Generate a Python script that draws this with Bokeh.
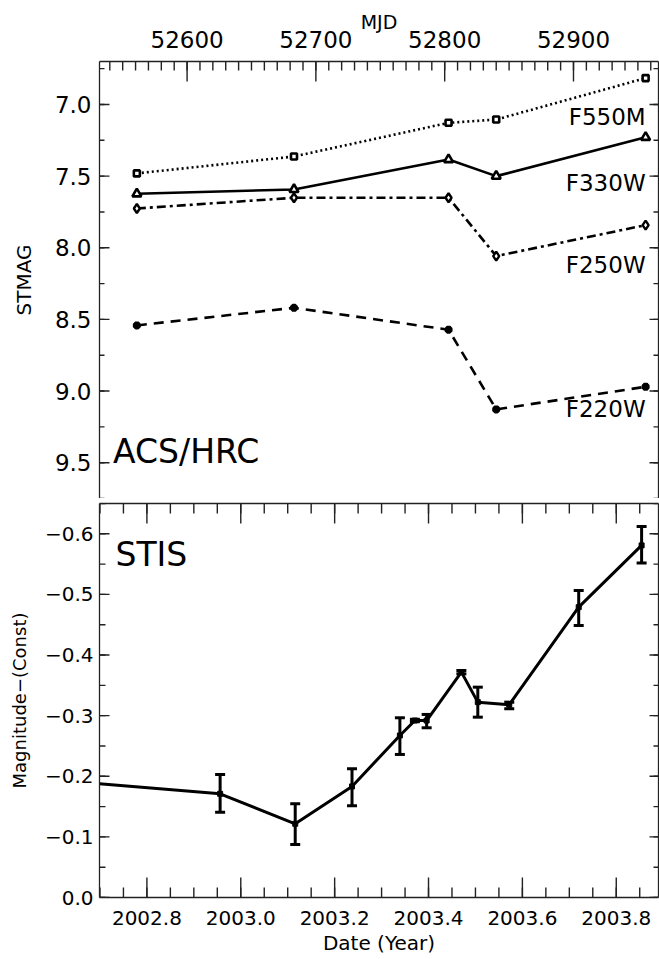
import numpy as np
from bokeh.plotting import figure
from bokeh.layouts import column
from bokeh.models import (Range1d, LinearAxis, SingleIntervalTicker, PrintfTickFormatter,
                          CustomJSTickFormatter, Whisker, TeeHead, ColumnDataSource, Label)
from bokeh.embed import file_html
from bokeh.resources import INLINE

# ---------------- data ----------------
# ACS/HRC photometry (MJD, STMAG)
acs_mjd = [52561, 52683, 52803, 52840, 52956]
f550m = [7.481, 7.363, 7.128, 7.105, 6.816]
f330w = [7.623, 7.593, 7.384, 7.500, 7.229]
f250w = [7.726, 7.651, 7.651, 8.058, 7.842]
f220w = [8.542, 8.419, 8.572, 9.128, 8.970]
filter_names = ["F550M", "F330W", "F250W", "F220W"]

# STIS relative magnitudes (decimal year)
stis_year = [2002.699, 2002.956, 2003.116, 2003.237, 2003.339, 2003.371,
             2003.396, 2003.470, 2003.505, 2003.572, 2003.720, 2003.854]
stis_mag = [-0.1876, -0.1711, -0.1216, -0.1832, -0.2673, -0.292,
            -0.292, -0.3718, -0.3223, -0.318, -0.479, -0.5809]
stis_err_upper = [-0.203, -0.1546, -0.2123, -0.2965, -0.294,
                  -0.302, -0.3745, -0.347, -0.3223, -0.5066, -0.6122]
stis_err_lower = [-0.1408, -0.0875, -0.1513, -0.236, -0.290,
                  -0.280, -0.369, -0.2975, -0.3114, -0.4488, -0.5517]

FONT = "DejaVu Sans"
AXC = "#222222"
FRAME_W = 559
TOP_FRAME_H = 437
BOT_FRAME_H = 394


def style_axis(ax, label_px=None, show_labels=True):
    ax.major_tick_in = 0
    ax.major_tick_out = 0
    ax.minor_tick_in = 0
    ax.minor_tick_out = 0
    ax.axis_line_color = AXC
    ax.axis_line_width = 1.3
    ax.major_label_text_font = FONT
    ax.major_label_text_color = "black"
    ax.axis_label_text_font = FONT
    ax.axis_label_text_font_style = "normal"
    ax.axis_label_text_color = "black"
    if show_labels:
        ax.major_label_text_font_size = label_px
    else:
        ax.major_label_text_font_size = "0px"
        ax.major_label_standoff = 0
        ax.formatter = CustomJSTickFormatter(code="return '';")


def inward_ticks(p, values, fixed, d, along="x"):
    """Tick marks inside the frame; d = signed length in data units."""
    vals = [float(v) for v in values]
    n = len(vals)
    if along == "x":
        p.segment(x0=vals, y0=[fixed] * n, x1=vals, y1=[fixed + d] * n,
                  line_color=AXC, line_width=1.4)
    else:
        p.segment(x0=[fixed] * n, y0=vals, x1=[fixed + d] * n, y1=vals,
                  line_color=AXC, line_width=1.4)


# ---------------- top panel: ACS/HRC ----------------
x1 = Range1d(52532, 52966)
y1 = Range1d(9.75, 6.70)
p1 = figure(width=659, height=498, x_range=x1, y_range=y1, x_axis_location="above",
            output_backend="svg", toolbar_location=None,
            min_border_left=99, min_border_right=1, min_border_top=61,
            min_border_bottom=0)
p1.outline_line_color = None
p1.grid.visible = False
p1.background_fill_color = "white"
p1.border_fill_color = "white"

xa = p1.xaxis[0]
xa.ticker = SingleIntervalTicker(interval=100, num_minor_ticks=10)
xa.formatter = PrintfTickFormatter(format="%d")
style_axis(xa, "23px")
xa.axis_label = "MJD"
xa.axis_label_text_font_size = "19px"
xa.major_label_standoff = 14
xa.axis_label_standoff = -5

ya = p1.yaxis[0]
ya.ticker = SingleIntervalTicker(interval=0.5, num_minor_ticks=2)
ya.formatter = PrintfTickFormatter(format="%.1f")
style_axis(ya, "23px")
ya.axis_label = "STMAG"
ya.axis_label_text_font_size = "20px"
ya.major_label_standoff = 8
ya.axis_label_standoff = 16

ra = LinearAxis(ticker=SingleIntervalTicker(interval=0.5, num_minor_ticks=2))
style_axis(ra, show_labels=False)
p1.add_layout(ra, "right")

ux1 = (x1.end - x1.start) / FRAME_W          # data units per pixel
uy1 = (y1.start - y1.end) / TOP_FRAME_H       # positive: downward on screen
mjd_minor = np.arange(52540, 52961, 10)
mjd_major = np.arange(52600, 52901, 100)
mag_minor = np.round(np.arange(6.75, 9.751, 0.25), 2)
mag_major = np.round(np.arange(7.0, 9.51, 0.5), 2)
inward_ticks(p1, mjd_minor, y1.end, 9 * uy1, "x")
inward_ticks(p1, mjd_major, y1.end, 20 * uy1, "x")
inward_ticks(p1, mag_minor, x1.start, 5 * ux1, "y")
inward_ticks(p1, mag_major, x1.start, 10 * ux1, "y")
inward_ticks(p1, mag_minor, x1.end, -5 * ux1, "y")
inward_ticks(p1, mag_major, x1.end, -9 * ux1, "y")

series = [
    (f550m, "2 3", "square", 6, 2.6),
    (f330w, "solid", "triangle", 9, 2.6),
    (f250w, "9 4 3 4", "diamond", 9, 2.4),
    (f220w, "10 7", "asterisk", 8, 3.0),
]
for vals, dash, marker, msize, mlw in series:
    p1.line(acs_mjd, vals, line_width=2.6, line_color="black", line_dash=dash)
    p1.scatter(acs_mjd, vals, marker=marker, size=msize, line_width=mlw,
               line_color="black", fill_color="white")

label_y = [7.084, 7.549, 8.121, 9.128]
for name, ly in zip(filter_names, label_y):
    p1.add_layout(Label(x=acs_mjd[-1], y=ly, text=name, text_align="right",
                        text_baseline="middle", text_font=FONT,
                        text_font_size="23px", text_color="black"))
p1.add_layout(Label(x=52542.5, y=9.42, text="ACS/HRC", text_align="left",
                    text_baseline="middle", text_font=FONT,
                    text_font_size="33px", text_color="black"))

# ---------------- bottom panel: STIS ----------------
x2 = Range1d(2002.699, 2003.89)
y2 = Range1d(0.0, -0.65)
p2 = figure(width=659, height=461, x_range=x2, y_range=y2,
            output_backend="svg", toolbar_location=None,
            min_border_left=99, min_border_right=1, min_border_top=5,
            min_border_bottom=62)
p2.outline_line_color = None
p2.grid.visible = False
p2.background_fill_color = "white"
p2.border_fill_color = "white"

bx = p2.xaxis[0]
bx.ticker = SingleIntervalTicker(interval=0.2, num_minor_ticks=4)
bx.formatter = PrintfTickFormatter(format="%.1f")
style_axis(bx, "20px")
bx.axis_label = "Date (Year)"
bx.axis_label_text_font_size = "20px"
bx.major_label_standoff = 13
bx.axis_label_standoff = 3

by = p2.yaxis[0]
by.ticker = SingleIntervalTicker(interval=0.1, num_minor_ticks=2)
by.formatter = CustomJSTickFormatter(
    code="return (tick < -1e-9 ? '\\u2212' : '') + Math.abs(tick).toFixed(1);")
style_axis(by, "20px")
by.axis_label = "Magnitude\u2212(Const)"
by.axis_label_text_font_size = "18px"
by.major_label_standoff = 6
by.axis_label_standoff = 12

ta = LinearAxis(ticker=SingleIntervalTicker(interval=0.2, num_minor_ticks=4))
style_axis(ta, show_labels=False)
p2.add_layout(ta, "above")

ra2 = LinearAxis(ticker=SingleIntervalTicker(interval=0.1, num_minor_ticks=2))
style_axis(ra2, show_labels=False)
p2.add_layout(ra2, "right")

ux2 = (x2.end - x2.start) / FRAME_W
uy2 = (y2.start - y2.end) / BOT_FRAME_H       # positive: downward on screen
yr_minor = np.round(np.arange(2002.70, 2003.8901, 0.05), 2)
yr_major = np.round(np.arange(2002.8, 2003.801, 0.2), 1)
rel_minor = np.round(np.arange(-0.65, 0.001, 0.05), 2)
rel_major = np.round(np.arange(-0.6, 0.001, 0.1), 1)
inward_ticks(p2, yr_minor, y2.start, -10 * uy2, "x")
inward_ticks(p2, yr_major, y2.start, -20 * uy2, "x")
inward_ticks(p2, yr_minor, y2.end, 10 * uy2, "x")
inward_ticks(p2, yr_major, y2.end, 20 * uy2, "x")
inward_ticks(p2, rel_minor, x2.start, 6 * ux2, "y")
inward_ticks(p2, rel_major, x2.start, 10 * ux2, "y")
inward_ticks(p2, rel_minor, x2.end, -5 * ux2, "y")
inward_ticks(p2, rel_major, x2.end, -9 * ux2, "y")

p2.line(stis_year, stis_mag, line_width=3, line_color="black")
err_src = ColumnDataSource(dict(x=stis_year[1:], upper=stis_err_upper,
                                lower=stis_err_lower))
p2.add_layout(Whisker(source=err_src, base="x", upper="upper", lower="lower",
                      dimension="height", line_width=3, line_color="black",
                      upper_head=TeeHead(size=10, line_width=3, line_color="black"),
                      lower_head=TeeHead(size=10, line_width=3, line_color="black")))
p2.scatter(stis_year[1:], stis_mag[1:], marker="square", size=5,
           line_color="black", fill_color="black")

p2.add_layout(Label(x=2002.733, y=-0.566, text="STIS", text_align="left",
                    text_baseline="middle", text_font=FONT,
                    text_font_size="33px", text_color="black"))

layout = column(p1, p2, spacing=0)
open("out.html", "w", encoding="utf-8").write(file_html(layout, INLINE))
